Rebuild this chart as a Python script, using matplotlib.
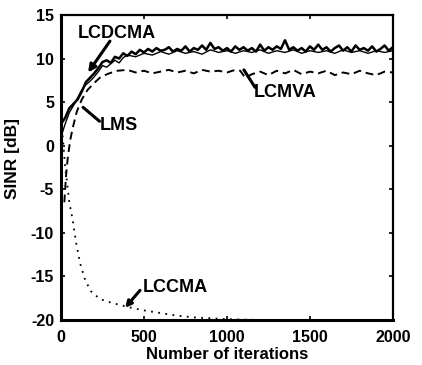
import matplotlib
matplotlib.use("Agg")
import matplotlib.pyplot as plt

# ---- data ----
lcdcma_x = list(range(0, 2001, 25))
lcdcma_y = [2.5, 3.2, 4.3, 4.8, 5.3, 6.2, 7.3, 7.8, 8.3, 8.9, 9.6, 9.8, 9.5, 10.2, 10.0, 10.6,
            10.3, 10.8, 10.5, 11.0, 10.7, 11.1, 10.8, 11.2, 10.9, 11.0, 11.3, 10.8, 11.1, 10.9,
            11.4, 10.8, 11.2, 11.0, 11.5, 11.0, 11.8, 11.1, 11.3, 10.9, 11.2, 10.8, 11.4, 11.0,
            11.3, 10.9, 11.2, 10.8, 11.6, 10.9, 11.3, 11.0, 11.4, 11.1, 12.1, 11.0, 11.3, 10.9,
            11.2, 10.8, 11.4, 11.0, 11.6, 11.0, 11.3, 10.8, 11.2, 11.5, 10.9, 11.3, 10.8, 11.5,
            11.0, 11.2, 10.9, 11.4, 10.8, 11.1, 11.5, 10.9, 11.3]

lms_x = [0, 25, 50, 75, 100, 125, 150, 175, 200, 225, 250, 275, 300, 325, 350, 375, 400,
         450, 500, 550, 600, 650, 700, 750, 800, 850, 900, 950, 1000, 1050, 1100, 1150, 1200,
         1250, 1300, 1350, 1400, 1450, 1500, 1550, 1600, 1650, 1700, 1750, 1800, 1850, 1900,
         1950, 2000]
lms_y = [1.0, 2.5, 3.8, 4.6, 5.5, 6.4, 7.0, 7.4, 7.9, 8.5, 9.2, 9.0, 9.4, 9.8, 9.5, 10.1, 10.4,
         10.2, 10.6, 10.4, 10.8, 10.5, 10.9, 10.6, 10.8, 10.5, 11.0, 10.7, 10.9, 10.6, 10.9, 10.7,
         11.0, 10.6, 10.9, 10.7, 11.0, 10.6, 10.9, 10.7, 10.9, 10.6, 11.0, 10.7, 10.9, 10.6, 10.9,
         10.7, 10.9]

lcmva_x = [20, 30, 40, 55, 70, 95, 125, 160, 200, 240, 290, 340, 400, 450, 500, 550, 600, 650,
           700, 750, 800, 850, 900, 950, 1000, 1050, 1080, 1110, 1150, 1200, 1250, 1300, 1350,
           1400, 1450, 1500, 1550, 1600, 1650, 1700, 1750, 1800, 1850, 1900, 1950, 2000]
lcmva_y = [-6.5, -3.5, -1.5, 0.6, 2.0, 3.9, 5.3, 6.4, 7.2, 7.9, 8.3, 8.6, 8.7, 8.4, 8.6, 8.3,
           8.5, 8.7, 8.4, 8.6, 8.3, 8.7, 8.5, 8.6, 8.4, 8.7, 8.6, 7.8, 8.2, 8.5, 8.1, 8.6, 8.3,
           8.7, 8.2, 8.5, 8.3, 8.6, 8.1, 8.4, 8.2, 8.6, 8.3, 8.1, 8.5, 8.4]

lccma_x = [5, 15, 25, 35, 50, 70, 90, 115, 145, 180, 235, 300, 400, 500, 600, 700, 800, 900,
           1000, 1200, 1400, 1600, 1800, 2000]
lccma_y = [2.0, 0.0, -2.5, -4.0, -6.5, -8.5, -11.0, -13.5, -15.4, -16.7, -17.6, -18.0, -18.5,
           -18.9, -19.2, -19.5, -19.7, -19.8, -19.9, -20.0, -20.0, -20.1, -20.0, -20.1]

x_ticks = [0, 500, 1000, 1500, 2000]
y_ticks = [-20, -15, -10, -5, 0, 5, 10, 15]

# ---- figure ----
plt.rcParams['font.family'] = ['Liberation Sans', 'DejaVu Sans']
plt.rcParams['font.weight'] = 'bold'
plt.rcParams['axes.unicode_minus'] = False
fig = plt.figure(figsize=(4.22, 3.65), dpi=100)
ax = fig.add_axes([0.1446, 0.1233, 0.7864, 0.8357])

ax.plot(lccma_x, lccma_y, color='black', linestyle=(0, (1, 3)), linewidth=1.3)
ax.plot(lcmva_x, lcmva_y, color='black', linestyle=(0, (4, 2.5)), linewidth=1.4)
ax.plot(lms_x, lms_y, color='black', linewidth=1.0)
ax.plot(lcdcma_x, lcdcma_y, color='black', linewidth=1.8)

ax.set_xlim(0, 2000)
ax.set_ylim(-20, 15)
ax.set_xticks(x_ticks)
ax.set_yticks(y_ticks)
ax.tick_params(direction='in', length=3, width=1.2, labelsize=11.5, pad=5,
               top=True, right=True)
ax.tick_params(axis='x', pad=7)
for lab in ax.get_xticklabels() + ax.get_yticklabels():
    lab.set_fontweight('bold')
for side in ['left', 'bottom']:
    ax.spines[side].set_linewidth(2.2)
for side in ['top', 'right']:
    ax.spines[side].set_linewidth(1.6)

ax.set_xlabel('Number of iterations', fontsize=12, fontweight='bold', labelpad=2)
ax.set_ylabel('SINR [dB]', fontsize=12.5, fontweight='bold', labelpad=2)
ax.yaxis.set_label_coords(-0.125, 0.53)

fs = 13
ax.text(102, 12.9, 'LCDCMA', fontsize=fs, fontweight='bold', va='center', ha='left')
ax.annotate('', xy=(163, 8.4), xytext=(295, 12.0),
            arrowprops=dict(arrowstyle='-|>', color='black', lw=2.2, shrinkA=0, shrinkB=0,
                            mutation_scale=11))
ax.text(235, 2.3, 'LMS', fontsize=fs, fontweight='bold', va='center', ha='left')
ax.annotate('', xy=(133, 4.4), xytext=(232, 2.8),
            arrowprops=dict(arrowstyle='-', color='black', lw=2.2, shrinkA=0, shrinkB=0))
ax.text(1163, 6.1, 'LCMVA', fontsize=fs, fontweight='bold', va='center', ha='left')
ax.annotate('', xy=(1102, 8.7), xytext=(1169, 6.7),
            arrowprops=dict(arrowstyle='-', color='black', lw=2.2, shrinkA=0, shrinkB=0))
ax.text(494, -16.3, 'LCCMA', fontsize=fs, fontweight='bold', va='center', ha='left')
ax.annotate('', xy=(386, -18.6), xytext=(476, -16.6),
            arrowprops=dict(arrowstyle='-|>', color='black', lw=2.2, shrinkA=0, shrinkB=0,
                            mutation_scale=9))

fig.savefig('out.png', dpi=100)
